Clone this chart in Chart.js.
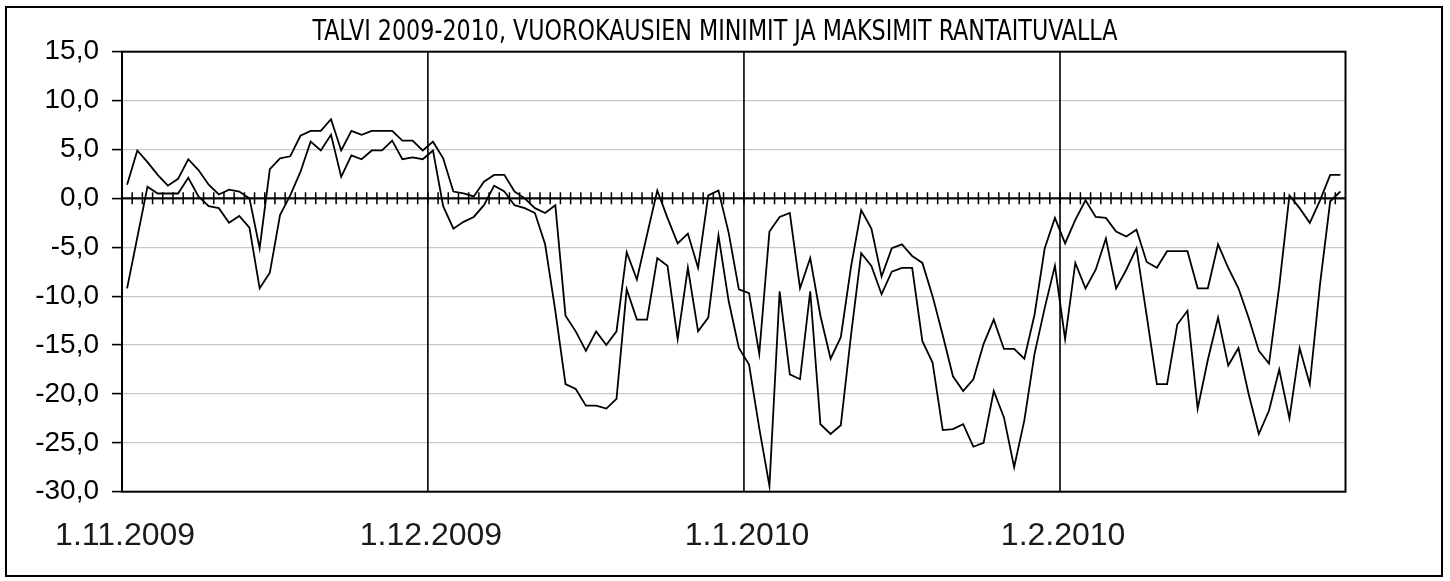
<!DOCTYPE html>
<html>
<head>
<meta charset="utf-8">
<script src="https://cdn.jsdelivr.net/npm/chart.js@4/dist/chart.umd.min.js"></script>
<style>
  html, body { margin: 0; padding: 0; background: #fff; }
  #wrap { width: 1450px; height: 581px; }
</style>
</head>
<body>
<div id="wrap"><canvas id="grafico"></canvas></div>
<script>
// kuukaudet x-akselille
const monthNames = ["11.2009", "12.2009", "1.2010", "2.2010"];
const monthDays = [30, 31, 31, 28];

// vuorokauden maksimit (ylempi viiva)
const maxTemps = [
  1.4, 4.9, 3.7, 2.4, 1.3, 2.0, 4.0, 2.9, 1.4, 0.4,
  0.9, 0.7, 0.0, -5.1, 3.0, 4.1, 4.3, 6.4, 6.9, 6.9,
  8.1, 4.9, 6.9, 6.5, 6.9, 6.9, 6.9, 5.9, 5.9, 4.9,
  5.8, 4.1, 0.7, 0.5, 0.2, 1.7, 2.4, 2.4, 0.7, 0.0,
  -1.0, -1.5, -0.7, -12.0, -13.6, -15.6, -13.6, -15.0, -13.6, -5.5,
  -8.3, -3.7, 0.8, -2.0, -4.6, -3.6, -7.1, 0.3, 0.8, -3.5,
  -9.3, -9.7, -15.9, -3.4, -1.9, -1.5, -9.2, -6.1, -12.0, -16.4,
  -14.2, -7.0, -1.2, -3.1, -8.0, -5.1, -4.7, -5.9, -6.6, -10.0,
  -14.0, -18.2, -19.7, -18.5, -14.9, -12.4, -15.4, -15.4, -16.4, -11.9,
  -5.1, -2.0, -4.6, -2.2, -0.2, -1.9, -2.0, -3.4, -3.9, -3.2,
  -6.5, -7.1, -5.4, -5.4, -5.4, -9.2, -9.2, -4.7, -7.1, -9.2,
  -12.2, -15.6, -16.9, -9.0, 0.3, -1.0, -2.5, -0.2, 2.4, 2.4
];

// vuorokauden minimit (alempi viiva)
const minTemps = [
  -9.2, -4.0, 1.2, 0.5, 0.5, 0.5, 2.1, 0.2, -0.8, -1.0,
  -2.5, -1.8, -3.0, -9.2, -7.6, -1.7, 0.3, 2.7, 5.8, 4.9,
  6.5, 2.2, 4.4, 4.0, 4.9, 4.9, 5.9, 4.0, 4.2, 4.0,
  4.9, -0.8, -3.1, -2.4, -1.9, -0.7, 1.3, 0.7, -0.7, -1.0,
  -1.5, -4.7, -11.5, -19.0, -19.5, -21.2, -21.2, -21.5, -20.5, -9.3,
  -12.4, -12.4, -6.1, -6.9, -14.4, -7.1, -13.6, -12.2, -3.8, -10.5,
  -15.3, -17.0, -23.5, -29.4, -9.5, -18.0, -18.5, -9.5, -23.1, -24.1,
  -23.2, -14.0, -5.6, -6.9, -9.8, -7.5, -7.1, -7.1, -14.6, -16.8,
  -23.7, -23.6, -23.1, -25.4, -25.0, -19.7, -22.4, -27.5, -22.7, -15.9,
  -11.2, -6.9, -14.4, -6.6, -9.2, -7.3, -4.1, -9.2, -7.3, -5.1,
  -12.0, -19.0, -19.0, -12.9, -11.5, -21.5, -16.5, -12.2, -17.1, -15.3,
  -20.0, -24.1, -21.7, -17.5, -22.5, -15.3, -19.0, -8.8, -0.3, 0.7
];

const otsikko = "TALVI 2009-2010, VUOROKAUSIEN MINIMIT JA MAKSIMIT RANTAITUVALLA";

// p칛iv칛m칛칛r칛t kategorioiksi
const days = [];
monthNames.forEach((m, k) => {
  for (let d = 1; d <= monthDays[k]; d++) days.push(d + "." + m);
});

// kehykset, nollaviiva, p칛iv칛merkit, kuukausiviivat ja otsikko
const kehys = {
  id: "kehys",
  beforeDraw(chart) {
    const { ctx, width, height } = chart;
    ctx.save();
    ctx.fillStyle = "#fff";
    ctx.fillRect(0, 0, width, height);
    ctx.strokeStyle = "#000";
    ctx.lineWidth = 2;
    ctx.strokeRect(6, 7, 1436, 569);
    ctx.restore();
  },
  beforeDatasetsDraw(chart) {
    const { ctx, chartArea: a, scales: { x, y } } = chart;
    const y0 = y.getPixelForValue(0);
    ctx.save();
    ctx.strokeStyle = "#000";

    // kuukausien rajat
    ctx.lineWidth = 1.6;
    ctx.beginPath();
    days.forEach((d, i) => {
      if (i > 0 && d.startsWith("1.")) {
        const px = (x.getPixelForValue(i - 1) + x.getPixelForValue(i)) / 2;
        ctx.moveTo(px, a.top);
        ctx.lineTo(px, a.bottom);
      }
    });
    ctx.stroke();

    // nollaviiva + p칛iv칛merkit
    ctx.lineWidth = 2;
    ctx.beginPath();
    ctx.moveTo(a.left, y0);
    ctx.lineTo(a.right, y0);
    ctx.stroke();
    ctx.lineWidth = 1.5;
    ctx.beginPath();
    for (let i = 1; i < days.length; i++) {
      const px = (x.getPixelForValue(i - 1) + x.getPixelForValue(i)) / 2;
      ctx.moveTo(px, y0 - 6);
      ctx.lineTo(px, y0 + 6);
    }
    ctx.stroke();

    ctx.lineWidth = 2;
    ctx.strokeRect(a.left, a.top, a.right - a.left, a.bottom - a.top);
    ctx.restore();
  },
  afterDraw(chart) {
    const { ctx } = chart;
    ctx.save();
    ctx.fillStyle = "#000";
    ctx.font = '28px "DejaVu Sans Condensed", "DejaVu Sans", sans-serif';
    ctx.textAlign = "center";
    ctx.textBaseline = "alphabetic";
    ctx.fillText(otsikko, 715, 39.5, 805);
    ctx.restore();
  },
};

const ctx = document.getElementById("grafico").getContext("2d");
new Chart(ctx, {
  type: "line",
  data: {
    labels: days,
    datasets: [
      {
        label: "Maksimi",
        data: maxTemps,
        borderColor: "#000",
        borderWidth: 1.8,
        pointRadius: 0,
        tension: 0,
      },
      {
        label: "Minimi",
        data: minTemps,
        borderColor: "#000",
        borderWidth: 1.8,
        pointRadius: 0,
        tension: 0,
      },
    ],
  },
  options: {
    responsive: true,
    maintainAspectRatio: false,
    animation: false,
    layout: { padding: { left: 0, right: 104.5, top: 51.7, bottom: 0 } },
    plugins: {
      legend: { display: false },
      title: { display: false },
      tooltip: { enabled: false },
    },
    scales: {
      x: {
        type: "category",
        offset: true,
        grid: { display: false, offset: true },
        border: { display: false },
        ticks: {
          autoSkip: false,
          maxRotation: 0,
          minRotation: 0,
          padding: 17,
          labelOffset: -2,
          color: "#1a1a1a",
          font: { family: '"Liberation Sans", Arial, sans-serif', size: 32 },
          callback: function (value) {
            const l = this.getLabelForValue(value);
            return l.startsWith("1.") ? l : "";
          },
        },
        afterFit(scale) {
          scale.height = 581 - 491.7;
        },
      },
      y: {
        min: -30,
        max: 15,
        border: { display: false },
        grid: {
          color: (c) => (c.tick && c.tick.value === 0 ? "#000" : "#c8c8c8"),
          lineWidth: 1.2,
          drawTicks: true,
          tickLength: 10,
          tickColor: "#000",
          tickWidth: 1.6,
        },
        ticks: {
          stepSize: 5,
          padding: 13,
          color: "#000",
          font: { family: '"Liberation Sans", Arial, sans-serif', size: 28 },
          callback: (v) => v.toFixed(1).replace(".", ","),
        },
        afterFit(scale) {
          scale.width = 122;
        },
      },
    },
  },
  plugins: [kehys],
});
</script>
</body>
</html>
